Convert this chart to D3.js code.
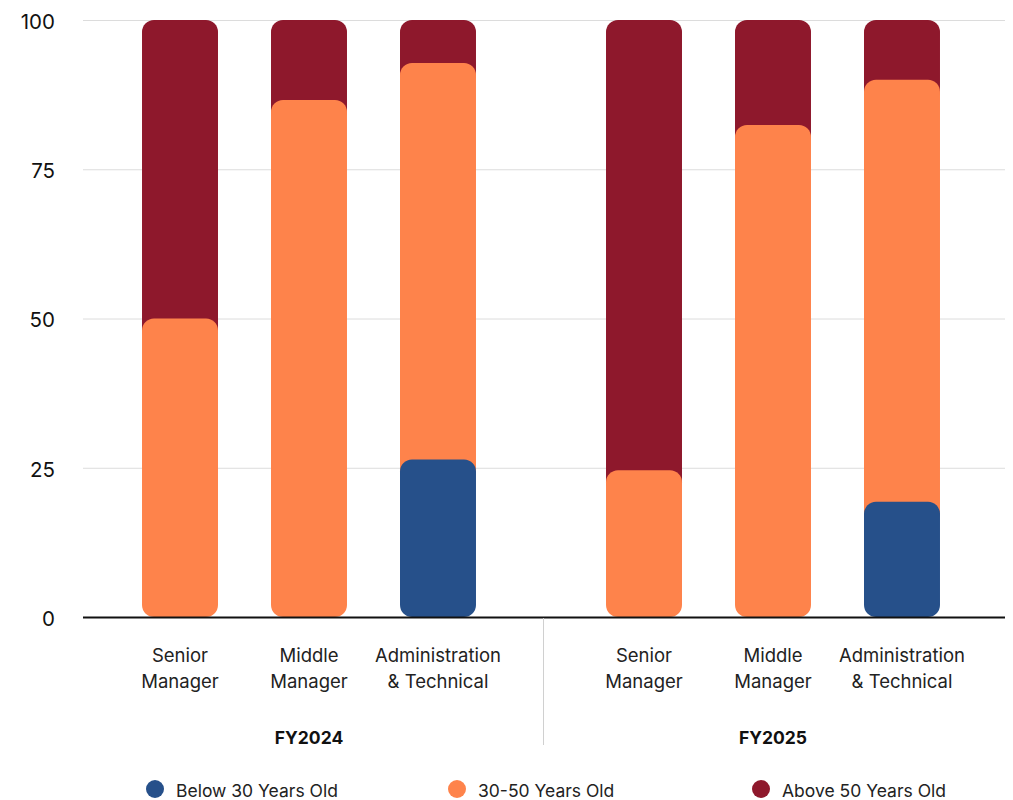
<!DOCTYPE html>
<html>
<head>
<meta charset="utf-8">
<script src="https://cdn.jsdelivr.net/npm/d3@7"></script>
<style>
  html, body { margin: 0; padding: 0; background: #fff; }
  svg { display: block; font-family: Inter, "Noto Sans", sans-serif; }
</style>
</head>
<body>
<svg id="chart" width="1013" height="800"></svg>
<script>
// ---- Data ----
const groups = ["FY2024", "FY2025"];
const categories = ["Senior Manager", "Middle Manager", "Administration & Technical"];
const categoryLines = [["Senior", "Manager"], ["Middle", "Manager"], ["Administration", "& Technical"]];
const seriesNames = ["Below 30 Years Old", "30-50 Years Old", "Above 50 Years Old"];
const seriesColors = ["#26508a", "#fe834b", "#8e182c"];
// values in order: FY2024 (Senior, Middle, Admin), FY2025 (Senior, Middle, Admin)
const below30 = [0, 0, 26.4, 0, 0, 19.3];
const age30to50 = [50, 86.6, 66.4, 24.6, 82.4, 70.7];
const above50 = [50, 13.4, 7.2, 75.4, 17.6, 10];
const yTicks = [0, 25, 50, 75, 100];

// ---- Build rows ----
const rows = [];
groups.forEach((g, gi) => {
  categories.forEach((c, ci) => {
    const i = gi * categories.length + ci;
    rows.push({ group: g, category: c, ci: ci,
      "Below 30 Years Old": below30[i],
      "30-50 Years Old": age30to50[i],
      "Above 50 Years Old": above50[i] });
  });
});

const svg = d3.select("#chart");
const x0 = 83, x1 = 1005;
const yBottom = 617, yTop = 20;

const gx = d3.scaleBand().domain(groups).range([77, x1]).padding(0);
const cx = d3.scaleBand().domain(categories).range([0, gx.bandwidth()])
  .paddingInner(0.411).paddingOuter(0.504);
const y = d3.scaleLinear().domain([0, 100]).range([yBottom, yTop]);

// gridlines
svg.append("g").selectAll("line").data(yTicks.filter(t => t > 0)).join("line")
  .attr("x1", x0).attr("x2", x1)
  .attr("y1", d => y(d) + 0.5).attr("y2", d => y(d) + 0.5)
  .attr("stroke", "#dcdcdc").attr("stroke-width", 1);

// y axis labels
const yAxis = d3.axisLeft(y).tickValues(yTicks).tickSize(0).tickPadding(0);
const yg = svg.append("g").attr("transform", `translate(55,1)`).call(yAxis);
yg.select(".domain").remove();
yg.selectAll("text").attr("font-size", 20.5).attr("fill", "#111")
  .attr("font-family", "Inter, sans-serif").attr("dy", "0.36em");

// stacked bars
const stack = d3.stack().keys(seriesNames);
const stacked = stack(rows);
const r = 12;
const barsG = svg.append("g");
for (let s = stacked.length - 1; s >= 0; s--) {
  const layer = stacked[s];
  barsG.append("g").attr("fill", seriesColors[s])
    .selectAll("rect").data(layer.filter(d => d[1] - d[0] > 0)).join("rect")
    .attr("x", d => gx(d.data.group) + cx(d.data.category))
    .attr("width", cx.bandwidth())
    .attr("y", d => y(d[1]))
    .attr("height", d => Math.min(y(d[0]) + (d[0] > 0 ? 2 * r : 0), y(0)) - y(d[1]))
    .attr("rx", r).attr("ry", r);
}

// baseline
svg.append("line").attr("x1", x0).attr("x2", x1)
  .attr("y1", y(0) + 0.5).attr("y2", y(0) + 0.5)
  .attr("stroke", "#111").attr("stroke-width", 2);

// group divider
const divX = Math.round(gx("FY2025") + 2) + 0.5;
svg.append("line").attr("x1", divX).attr("x2", divX)
  .attr("y1", y(0) + 1).attr("y2", 745)
  .attr("stroke", "#d0d0d0").attr("stroke-width", 1);

// category labels
rows.forEach(d => {
  const cxPos = gx(d.group) + cx(d.category) + cx.bandwidth() / 2;
  const t = svg.append("text").attr("text-anchor", "middle")
    .attr("font-size", 18.5).attr("fill", "#222");
  categoryLines[d.ci].forEach((line, li) => {
    t.append("tspan").attr("x", cxPos).attr("y", 662 + li * 25.5).text(line);
  });
});

// group labels (centered under middle category)
svg.append("g").selectAll("text").data(groups).join("text")
  .attr("x", d => gx(d) + cx(categories[1]) + cx.bandwidth() / 2)
  .attr("y", 744)
  .attr("text-anchor", "middle").attr("font-size", 17.5).attr("font-weight", "bold")
  .attr("fill", "#111").text(d => d);

// legend
const legendX = [155, 457, 761];
const lg = svg.append("g").selectAll("g").data(seriesNames).join("g")
  .attr("transform", (d, i) => `translate(${legendX[i]},789)`);
lg.append("circle").attr("r", 9).attr("fill", (d, i) => seriesColors[i]);
lg.append("text").attr("x", 21).attr("y", 7.5).attr("font-size", 17.5)
  .attr("fill", "#222").text(d => d);
</script>
</body>
</html>
